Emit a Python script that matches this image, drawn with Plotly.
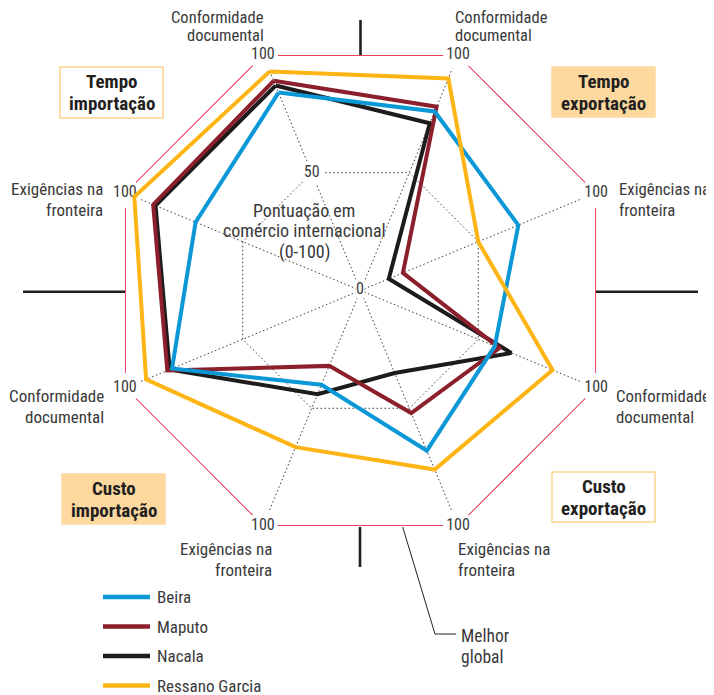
import plotly.graph_objects as go

# Eixos do radar, no sentido horário a partir do canto superior esquerdo.
categorias = [
    "Tempo importação · Conformidade documental",
    "Tempo exportação · Conformidade documental",
    "Tempo exportação · Exigências na fronteira",
    "Custo exportação · Conformidade documental",
    "Custo exportação · Exigências na fronteira",
    "Custo importação · Exigências na fronteira",
    "Custo importação · Conformidade documental",
    "Tempo importação · Exigências na fronteira",
]

beira = [84, 76, 67, 57, 68, 40, 80, 70]
maputo = [89, 78, 18, 59, 52, 32, 82, 88]
nacala = [87, 71, 12, 64, 35, 44, 81, 87]
ressano_garcia = [93, 90, 50, 81.5, 76, 66.5, 91, 96]
melhor_global = [100, 100, 100, 100, 100, 100, 100, 100]

series_nomes = ["Beira", "Maputo", "Nacala", "Ressano Garcia"]
series_valores = [beira, maputo, nacala, ressano_garcia]
series_cores = ["#0a98d6", "#8b1f2c", "#1d1b1b", "#fdb515"]
ordem_desenho = [2, 1, 0, 3]  # Nacala por baixo, Ressano Garcia por cima

rotulos_eixo = [
    ["Conformidade", "documental"],
    ["Conformidade", "documental"],
    ["Exigências na", "fronteira"],
    ["Conformidade", "documental"],
    ["Exigências na", "fronteira"],
    ["Exigências na", "fronteira"],
    ["Conformidade", "documental"],
    ["Exigências na", "fronteira"],
]

grupos = [["Tempo", "importação"], ["Tempo", "exportação"], ["Custo", "importação"], ["Custo", "exportação"]]

W, H = 714, 695
OFF = 8  # margem do <body> da página
FONT = "Liberation Sans Narrow, Roboto Condensed, DejaVu Sans Condensed, Roboto, sans-serif"
TEXTO = "#3a3a3a"
ESCURO = "#231f20"
LARANJA = "#fdd9a0"
BORDA = "#fdd48c"
VERMELHO = "#e4002b"
GRADE = "#3a3a3a"

# Geometria do radar em pixels da janela.
CX, CY, R = 360.5, 290.5, 255


def fx(x):
    return (x - OFF) / W


def fy(y):
    return 1 - (y - OFF) / H


def fechar(valores):
    return list(valores) + [valores[0]]


fig = go.Figure()

# Linha "Melhor global" (100 em todos os eixos).
fig.add_trace(
    go.Scatterpolar(
        r=fechar(melhor_global),
        theta=fechar(categorias),
        mode="lines",
        line=dict(color=VERMELHO, width=1.6),
        cliponaxis=False,
        hoverinfo="skip",
    )
)

# Rótulos "100" nos vértices, com fundo branco.
fig.add_trace(
    go.Scatterpolar(
        r=melhor_global,
        theta=categorias,
        mode="markers+text",
        text=["100"] * len(categorias),
        textposition="middle center",
        textfont=dict(family=FONT, size=16, color=TEXTO),
        marker=dict(color="white", size=30, line=dict(width=0)),
        cliponaxis=False,
        hoverinfo="skip",
    )
)

# Rótulo "50" da escala radial sobre o primeiro eixo.
fig.add_trace(
    go.Scatterpolar(
        r=[50],
        theta=[categorias[0]],
        mode="markers+text",
        text=["50"],
        textposition="middle center",
        textfont=dict(family=FONT, size=16, color=TEXTO),
        marker=dict(color="white", size=26, line=dict(width=0)),
        cliponaxis=False,
        hoverinfo="skip",
    )
)

for i in ordem_desenho:
    fig.add_trace(
        go.Scatterpolar(
            r=fechar(series_valores[i]),
            theta=fechar(categorias),
            mode="lines",
            name=series_nomes[i],
            line=dict(color=series_cores[i], width=4),
            cliponaxis=False,
        )
    )

fig.update_layout(
    width=W,
    height=H,
    margin=dict(l=0, r=0, t=0, b=0),
    paper_bgcolor="white",
    showlegend=False,
    polar=dict(
        domain=dict(x=[fx(CX - R), fx(CX + R)], y=[fy(CY + R), fy(CY - R)]),
        bgcolor="white",
        gridshape="linear",
        radialaxis=dict(
            range=[0, 100],
            tickvals=[50],
            showticklabels=False,
            showline=False,
            ticks="",
            gridcolor=GRADE,
            griddash="1.5px,2.5px",
            gridwidth=1.2,
        ),
        angularaxis=dict(
            rotation=112.5,
            direction="clockwise",
            showticklabels=False,
            showline=False,
            ticks="",
            gridcolor=GRADE,
            griddash="1.5px,2.5px",
            gridwidth=1.2,
        ),
    ),
)


def add_linhas(linhas, x, y0, xanchor, size=17, step=20.5, bold=False, color=TEXTO, bgcolor=None):
    for k, linha in enumerate(linhas):
        fig.add_annotation(
            x=fx(x),
            y=fy(y0 + k * step),
            xref="paper",
            yref="paper",
            text=f"<b>{linha}</b>" if bold else linha,
            showarrow=False,
            xanchor=xanchor,
            yanchor="middle",
            borderpad=0,
            bgcolor=bgcolor,
            font=dict(family=FONT, size=size, color=color),
        )


# Rótulo "0" no centro.
add_linhas(["0"], CX - 1, CY - 2, "center", size=16, bgcolor="white")

# Rótulos dos eixos (posição do texto, âncora, tamanho, entrelinha).
pos_rotulos = [
    (265, 17.3, "right", 16.5, 18.5),
    (454, 17.3, "left", 16.5, 18.5),
    (618, 189, "left", 16.8, 20.5),
    (615, 396, "left", 16.8, 20.5),
    (457, 549, "left", 17, 20.5),
    (273, 549, "right", 17, 20.5),
    (105, 396, "right", 17, 20.5),
    (104, 189, "right", 17, 20.5),
]
for linhas, (x, y, anc, tam, passo) in zip(rotulos_eixo, pos_rotulos):
    add_linhas(linhas, x, y, anc, size=tam, step=passo)

# Texto central.
add_linhas(["Pontuação em", "comércio internacional", "(0-100)"], 304, 210, "center", size=18, step=21)

# Caixas dos grupos.
caixas = [
    ((60, 67, 163, 118), False),
    ((552, 67, 655, 117), True),
    ((62, 474, 165, 524), True),
    ((552, 472, 655, 522), False),
]
for (x0, y0, x1, y1), cheia in caixas:
    fig.add_shape(
        type="rect",
        xref="paper",
        yref="paper",
        x0=fx(x0),
        x1=fx(x1),
        y0=fy(y1),
        y1=fy(y0),
        fillcolor=LARANJA if cheia else "white",
        line=dict(color=LARANJA if cheia else BORDA, width=1.5),
        layer="below",
    )
for linhas, ((x0, y0, x1, y1), _) in zip(grupos, caixas):
    add_linhas(linhas, (x0 + x1) / 2, (y0 + y1) / 2 - 10.5, "center", size=19, step=21.5, bold=True, color=ESCURO)

# Traços pretos que separam os quadrantes.
for x0, y0, x1, y1 in [(360.5, 20, 360.5, 55), (360, 527, 360, 567), (23, 291.7, 125, 291.7), (596, 291.7, 698, 291.7)]:
    fig.add_shape(
        type="line", xref="paper", yref="paper",
        x0=fx(x0), y0=fy(y0), x1=fx(x1), y1=fy(y1),
        line=dict(color=ESCURO, width=2.6),
    )

# Chamada "Melhor global".
fig.add_shape(
    type="path",
    xref="paper",
    yref="paper",
    path=f"M {fx(402.7)},{fy(527)} L {fx(435)},{fy(634)} L {fx(456)},{fy(634)}",
    line=dict(color=ESCURO, width=1),
)
add_linhas(["Melhor", "global"], 460, 636, "left", size=17.5, step=20.5)

# Legenda manual.
for k, i in enumerate(range(len(series_nomes))):
    y = 597 + k * 29.5
    fig.add_shape(
        type="line", xref="paper", yref="paper",
        x0=fx(103), x1=fx(150), y0=fy(y), y1=fy(y),
        line=dict(color=series_cores[i], width=4.5),
    )
    add_linhas([series_nomes[i]], 156, y, "left", size=17)

fig.write_html("out.html")
